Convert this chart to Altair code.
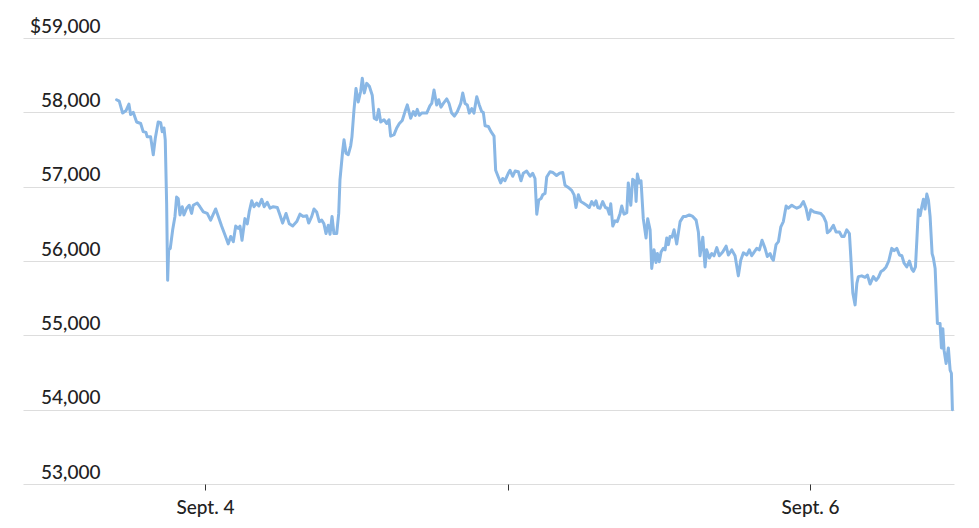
import altair as alt
import pandas as pd

# Hours since Sept. 3, 00:00 UTC
hours = [
16.99, 17.20, 17.47, 17.73, 17.97, 18.10, 18.31, 18.58, 18.90, 19.10,
19.32, 19.42, 19.69, 19.90, 20.06, 20.29, 20.49, 20.61, 20.75, 20.85,
20.96, 21.04, 21.12, 21.25, 21.44, 21.62, 21.75, 21.88, 22.02, 22.20,
22.33, 22.55, 22.75, 22.94, 23.07, 23.39, 23.60, 23.87, 24.18, 24.45,
24.85, 25.06, 25.32, 25.59, 25.85, 26.04, 26.25, 26.44, 26.64, 26.78,
26.94, 27.17, 27.36, 27.51, 27.71, 27.89, 28.10, 28.28, 28.50, 28.70,
28.94, 29.16, 29.42, 29.74, 29.95, 30.16, 30.43, 30.69, 30.96, 31.28,
31.54, 31.80, 32.07, 32.23, 32.47, 32.65, 32.86, 33.07, 33.26, 33.44,
33.60, 33.78, 33.92, 34.08, 34.23, 34.45, 34.61, 34.71, 34.93, 35.03,
35.19, 35.37, 35.56, 35.66, 35.82, 35.98, 36.16, 36.35, 36.48, 36.64,
36.83, 37.04, 37.27, 37.43, 37.62, 37.78, 37.94, 38.20, 38.42, 38.60,
38.73, 39.00, 39.21, 39.42, 39.65, 39.87, 40.05, 40.32, 40.53, 40.69,
40.84, 41.00, 41.19, 41.59, 41.85, 41.99, 42.17, 42.38, 42.54, 42.72,
42.91, 43.18, 43.36, 43.57, 43.78, 44.02, 44.29, 44.45, 44.63, 44.81,
44.97, 45.16, 45.34, 45.56, 45.76, 45.95, 46.08, 46.22, 46.48, 46.69,
46.93, 47.06, 47.27, 47.46, 47.62, 47.80, 48.06, 48.20, 48.41, 48.60,
48.86, 49.07, 49.25, 49.52, 49.79, 50.00, 50.18, 50.32, 50.48, 50.66,
50.79, 50.98, 51.11, 51.37, 51.61, 51.89, 52.13, 52.38, 52.56, 52.82,
53.09, 53.28, 53.43, 53.62, 53.81, 54.01, 54.28, 54.49, 54.68, 54.86,
55.02, 55.16, 55.34, 55.55, 55.76, 55.92, 56.08, 56.19, 56.35, 56.53,
56.71, 56.93, 57.06, 57.24, 57.46, 57.58, 57.78, 57.93, 58.12, 58.20,
58.30, 58.46, 58.59, 58.77, 58.99, 59.12, 59.31, 59.44, 59.62, 59.78,
59.89, 60.04, 60.18, 60.36, 60.50, 60.63, 60.76, 60.89, 61.05, 61.21,
61.42, 61.69, 61.95, 62.16, 62.42, 62.69, 62.96, 63.14, 63.27, 63.49,
63.67, 63.80, 64.01, 64.20, 64.38, 64.60, 64.80, 65.07, 65.34, 65.52,
65.79, 66.05, 66.31, 66.50, 66.71, 66.98, 67.18, 67.37, 67.56, 67.77,
67.98, 68.19, 68.43, 68.61, 68.83, 68.96, 69.09, 69.30, 69.49, 69.68,
69.88, 70.10, 70.28, 70.55, 70.73, 70.95, 71.21, 71.47, 71.68, 71.87,
72.06, 72.32, 72.58, 72.85, 73.06, 73.27, 73.37, 73.59, 73.85, 74.06,
74.33, 74.52, 74.70, 74.91, 75.12, 75.23, 75.39, 75.57, 75.71, 75.83,
76.10, 76.36, 76.55, 76.76, 77.02, 77.24, 77.42, 77.63, 77.82, 78.03,
78.24, 78.48, 78.67, 78.88, 79.09, 79.28, 79.46, 79.67, 79.88, 80.07,
80.20, 80.36, 80.47, 80.59, 80.73, 80.86, 80.99, 81.12, 81.26, 81.39,
81.52, 81.68, 81.78, 81.92, 82.10, 82.31, 82.42, 82.53, 82.63, 82.79,
82.97, 83.11, 83.21, 83.29,
]

prices = [
58170, 58150, 57990, 58020, 58110, 57970, 58000, 57870, 57850, 57740,
57730, 57670, 57670, 57430, 57650, 57870, 57860, 57740, 57790, 57630,
56780, 55740, 56150, 56170, 56420, 56600, 56860, 56840, 56620, 56730,
56620, 56710, 56750, 56640, 56750, 56780, 56730, 56660, 56640, 56550,
56700, 56600, 56470, 56350, 56230, 56330, 56260, 56470, 56440, 56470,
56280, 56570, 56500, 56660, 56810, 56730, 56780, 56740, 56830, 56730,
56790, 56710, 56730, 56720, 56620, 56510, 56640, 56500, 56470, 56530,
56630, 56600, 56610, 56510, 56600, 56700, 56660, 56530, 56550, 56500,
56370, 56480, 56360, 56600, 56370, 56370, 56640, 57090, 57490, 57630,
57450, 57430, 57550, 57670, 58030, 58320, 58140, 58280, 58460, 58260,
58390, 58350, 58230, 57920, 57900, 58040, 57870, 57900, 57850, 57900,
57680, 57700, 57790, 57850, 57890, 58010, 58100, 57920, 58010, 57960,
58040, 57960, 57990, 57990, 58090, 58120, 58300, 58100, 58170, 58070,
58120, 58180, 58120, 57990, 57950, 58010, 58120, 58260, 58120, 58100,
57990, 58050, 57990, 58210, 58100, 58010, 58000, 57820, 57810, 57740,
57680, 57220, 57130, 57050, 57110, 57080, 57180, 57220, 57140, 57210,
57200, 57080, 57180, 57210, 57140, 57180, 57110, 56630, 56820, 56840,
56890, 56910, 57130, 57200, 57190, 57150, 57180, 57190, 57020, 56990,
56950, 56890, 56720, 56890, 56800, 56780, 56750, 56720, 56800, 56750,
56810, 56720, 56710, 56800, 56720, 56710, 56630, 56770, 56470, 56540,
56530, 56640, 56740, 56630, 56650, 57050, 56750, 57100, 57070, 56800,
57170, 57050, 57080, 56570, 56310, 56570, 56420, 55900, 56150, 55980,
56100, 55990, 56120, 56170, 56150, 56310, 56220, 56330, 56320, 56420,
56230, 56530, 56600, 56600, 56620, 56600, 56550, 56390, 56070, 56320,
55920, 56150, 56040, 56100, 56070, 56180, 56070, 56120, 56200, 56080,
56150, 56070, 55800, 56010, 56110, 56080, 56150, 56070, 56120, 56170,
56150, 56280, 56170, 56060, 56100, 56040, 56010, 56220, 56260, 56460,
56530, 56740, 56710, 56750, 56730, 56710, 56730, 56800, 56710, 56560,
56690, 56660, 56650, 56640, 56600, 56520, 56380, 56410, 56480, 56390,
56390, 56330, 56330, 56420, 56370, 56060, 55570, 55410, 55700, 55790,
55800, 55780, 55810, 55690, 55790, 55740, 55780, 55860, 55880, 55920,
56000, 56170, 56140, 56170, 56080, 56070, 55970, 55920, 56000, 55890,
55860, 55920, 56280, 56690, 56610, 56730, 56830, 56700, 56900, 56820,
56600, 56100, 56040, 55900, 55160, 55160, 54830, 55090, 54800, 54620,
54830, 54530, 54490, 54000,
]

y_ticks = [53000, 54000, 55000, 56000, 57000, 58000, 59000]

base = pd.Timestamp("2024-09-03T00:00:00")
times = [(base + pd.Timedelta(hours=h)).strftime("%Y-%m-%dT%H:%M:%SZ") for h in hours]
df = pd.DataFrame({"time": times, "price": prices})

FONT = "Lato"

x_axis = alt.Axis(
    values=[
        alt.DateTime(year=2024, month=9, date=4, utc=True),
        alt.DateTime(year=2024, month=9, date=5, utc=True),
        alt.DateTime(year=2024, month=9, date=6, utc=True),
    ],
    labelExpr="utcdate(datum.value) == 5 ? '' : 'Sept. ' + utcdate(datum.value)",
    title=None,
    grid=False,
    domain=False,
    ticks=True,
    tickSize=6,
    tickColor="#333333",
    tickWidth=1,
    labelPadding=8,
    labelFont=FONT,
    labelFontSize=19,
    labelFontWeight=500,
    labelColor="#222222",
    labelOverlap=False,
    labelFlush=False,
)

y_axis = alt.Axis(
    values=y_ticks,
    labelExpr="datum.value == 59000 ? '$59,000' : format(datum.value, ',')",
    title=None,
    domain=False,
    ticks=False,
    tickSize=0,
    grid=True,
    gridColor="#dddddd",
    gridWidth=1,
    labelAlign="right",
    labelBaseline="alphabetic",
    labelPadding=-77,
    labelOffset=-6,
    labelFont=FONT,
    labelFontSize=19,
    labelFontWeight=500,
    labelColor="#222222",
    labelBound=False,
    labelFlush=False,
)

chart = (
    alt.Chart(df)
    .mark_line(color="#89b7e5", strokeWidth=3, strokeJoin="round", strokeCap="round")
    .encode(
        x=alt.X(
            "time:T",
            scale=alt.Scale(
                type="utc",
                domain=[
                    alt.DateTime(year=2024, month=9, date=3, hours=9, minutes=34, utc=True),
                    alt.DateTime(year=2024, month=9, date=6, hours=11, minutes=25, utc=True),
                ],
            ),
            axis=x_axis,
        ),
        y=alt.Y(
            "price:Q",
            scale=alt.Scale(domain=[53000, 59000], nice=False, zero=False),
            axis=y_axis,
        ),
    )
    .properties(
        width=931,
        height=446,
        autosize=alt.AutoSizeParams(type="none"),
        padding={"left": 15, "top": 30, "right": 17, "bottom": 36},
        background="white",
    )
    .configure_view(stroke=None)
)

chart.save("out.html", embed_options={"renderer": "svg", "actions": False})
